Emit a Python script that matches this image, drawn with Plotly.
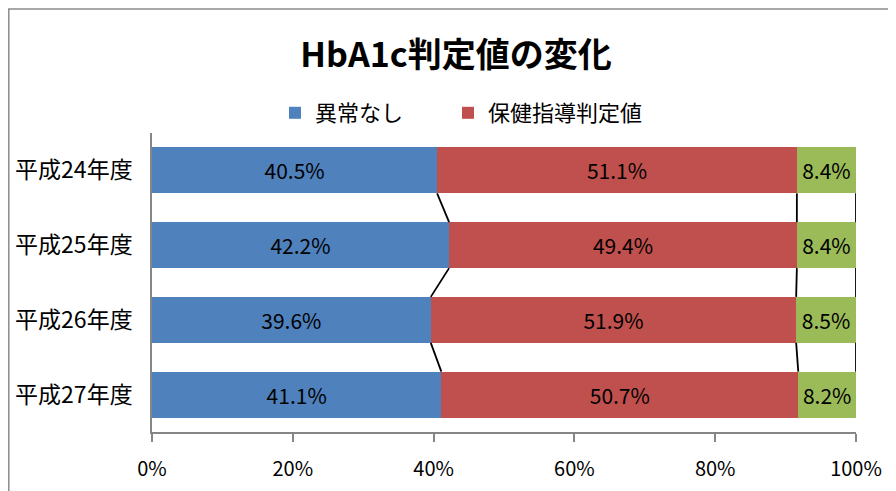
import plotly.graph_objects as go

categories = ["平成24年度", "平成25年度", "平成26年度", "平成27年度"]
normal = [40.5, 42.2, 39.6, 41.1]
guidance = [51.1, 49.4, 51.9, 50.7]
referral = [8.4, 8.4, 8.5, 8.2]
series_names = ["異常なし", "保健指導判定値", "受診勧奨判定値"]
colors = ["#4F81BD", "#C0504D", "#9BBB59"]
tick_vals = [0, 20, 40, 60, 80, 100]
tick_text = ["0%", "20%", "40%", "60%", "80%", "100%"]

FONT = "Noto Sans CJK JP"
pos = list(range(len(categories)))
bw = 0.615
OFF = 8  # page body margin

legend_ids = ["legend", "legend2", None]
fig = go.Figure()
for name, vals, col, lg in zip(series_names, [normal, guidance, referral], colors, legend_ids):
    fig.add_trace(go.Bar(
        y=pos, x=vals, name=name, orientation="h", width=bw,
        marker=dict(color=col, line=dict(width=0)),
        text=[f"{v:.1f}%" for v in vals], textposition="inside",
        insidetextanchor="middle",
        textfont=dict(family=FONT, size=21, color="black"),
        showlegend=lg is not None, legend=lg or "legend",
        hoverinfo="x+name",
    ))

# series lines
cum1 = normal
cum2 = [a + b for a, b in zip(normal, guidance)]
cum3 = [a + b + c for a, b, c in zip(normal, guidance, referral)]
for cum in [cum1, cum2, cum3]:
    for i in range(len(categories) - 1):
        fig.add_trace(go.Scatter(
            x=[cum[i], cum[i + 1]], y=[i + bw / 2, i + 1 - bw / 2],
            mode="lines", line=dict(color="black", width=1.8),
            showlegend=False, hoverinfo="skip",
        ))

W, H = 896, 491
L, R, T, B = 152 - OFF, 40 + OFF, 133 - OFF, 59 + OFF
pw, ph = W - L - R, H - T - B
def px2paper(xp, yp):
    # xp, yp in figure pixel coords
    return (xp - L) / pw, (H - B - yp) / ph

x0, y0 = px2paper(0.8, 1)
x1, y1 = px2paper(905, 500)
fig.add_shape(type="rect", xref="paper", yref="paper", x0=x0, y0=y1, x1=x1, y1=y0,
              line=dict(color="#8C8C8C", width=1.5), fillcolor="rgba(0,0,0,0)", layer="below")

leg_common = dict(orientation="h", yanchor="middle", xanchor="left",
                  font=dict(family=FONT, size=22), bgcolor="rgba(0,0,0,0)")
fig.update_layout(
    width=W, height=H,
    margin=dict(l=L, r=R, t=T, b=B, autoexpand=False),
    barmode="stack", bargap=0.385,
    paper_bgcolor="white", plot_bgcolor="white",
    font=dict(family=FONT, size=18, color="black"),
    title=dict(text="<b>HbA1c判定値の変化</b>", x=(456 - OFF) / W, xref="container", xanchor="center",
               y=1 - (55 - OFF) / H, yref="container", yanchor="middle",
               font=dict(family=FONT, size=34, color="black")),
    legend=dict(x=px2paper(275 - OFF, 0)[0], y=px2paper(0, 113 - OFF)[1], **leg_common),
    legend2=dict(x=px2paper(448 - OFF, 0)[0], y=px2paper(0, 113 - OFF)[1], **leg_common),
    xaxis=dict(range=[0, 100], tickvals=tick_vals, ticktext=tick_text, automargin=False,
               showgrid=False, zeroline=False, showline=True, linecolor="#868686", linewidth=1.5,
               ticks="outside", ticklen=8, tickcolor="#868686", tickwidth=1.5,
               ticklabelstandoff=10,
               tickfont=dict(family=FONT, size=20, color="black"), fixedrange=True),
    yaxis=dict(range=[len(categories) - 0.5, -0.5], tickvals=pos, ticktext=categories,
               automargin=False,
               showgrid=False, zeroline=False, showline=True, linecolor="#868686", linewidth=1.5,
               ticks="", ticklen=0, ticklabelstandoff=13,
               tickfont=dict(family=FONT, size=23, color="black"),
               fixedrange=True),
)

fig.write_html("out.html")
